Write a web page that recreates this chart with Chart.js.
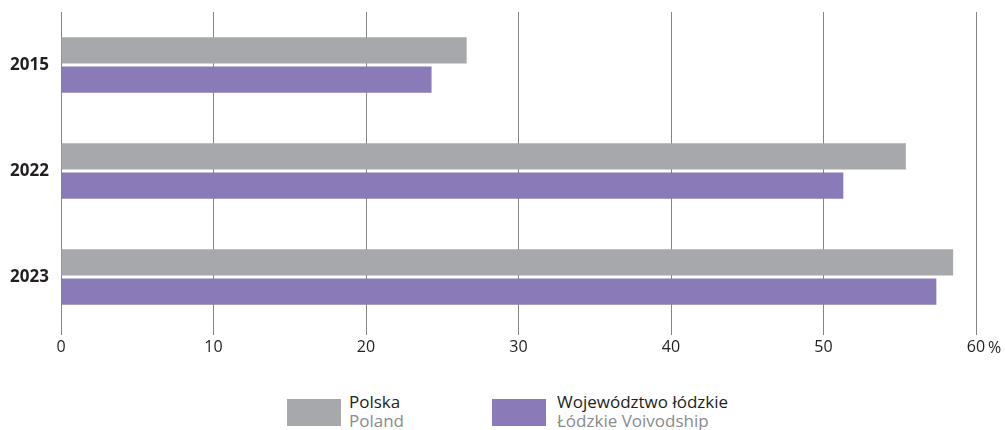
<!DOCTYPE html>
<html>
<head>
<meta charset="utf-8">
<script src="https://cdn.jsdelivr.net/npm/chart.js@4"></script>
<style>
  body { margin: 0; background: #fff; font-family: 'Open Sans', sans-serif; }
  #wrap { position: relative; width: 1005px; height: 430px; }
  #box { position: absolute; left: 0; top: 0; width: 1005px; height: 380px; }
  .key { position: absolute; top: 399px; width: 54px; height: 27px; }
  .txt { position: absolute; top: 392px; font-size: 17px; line-height: 19px; white-space: nowrap; }
  .txt .pl { color: #231f20; }
  .txt .en { color: #8a8b8d; }
</style>
</head>
<body>
<div id="wrap">
  <div id="box"><canvas id="chart"></canvas></div>
  <div class="key" style="left:287px;background:#a7a8ab"></div>
  <div class="txt" style="left:349px"><div class="pl">Polska</div><div class="en">Poland</div></div>
  <div class="key" style="left:492px;background:#8b7ab8"></div>
  <div class="txt" style="left:557px"><div class="pl">Województwo łódzkie</div><div class="en">Łódzkie Voivodship</div></div>
</div>
<script>
const years = ['2015', '2022', '2023'];
const polska = [26.6, 55.4, 58.5];
const lodzkie = [24.3, 51.3, 57.4];
const xTicks = [0, 10, 20, 30, 40, 50, 60];

const GREY = '#a7a8ab';
const PURPLE = '#8b7ab8';
const TEXT = '#231f20';

// percent sign after the last tick on the value axis
const percentSign = {
  id: 'percentSign',
  afterDraw(chart) {
    const x = chart.scales.x;
    const ctx = chart.ctx;
    ctx.save();
    ctx.font = '16px "Open Sans"';
    ctx.fillStyle = TEXT;
    ctx.textAlign = 'left';
    ctx.textBaseline = 'middle';
    ctx.fillText('%', x.getPixelForValue(xTicks[xTicks.length - 1]) + 12, 348);
    ctx.restore();
  }
};

new Chart(document.getElementById('chart'), {
  type: 'bar',
  data: {
    labels: years,
    datasets: [
      { label: 'Polska', data: polska, backgroundColor: GREY },
      { label: 'Województwo łódzkie', data: lodzkie, backgroundColor: PURPLE }
    ]
  },
  options: {
    indexAxis: 'y',
    responsive: true,
    maintainAspectRatio: false,
    animation: false,
    categoryPercentage: 0.55,
    barPercentage: 0.9,
    layout: { padding: { left: 0, right: 29, top: 12, bottom: 0 } },
    plugins: { legend: { display: false }, tooltip: { enabled: false } },
    scales: {
      x: {
        min: 0,
        max: 60,
        afterBuildTicks: s => { s.ticks = xTicks.map(v => ({ value: v })); },
        afterFit: s => { s.height = 50; },
        grid: { color: '#858585', lineWidth: 1, tickLength: 5, drawTicks: true },
        border: { display: false },
        ticks: { color: TEXT, font: { family: 'Open Sans', size: 16 }, padding: 3, maxRotation: 0 }
      },
      y: {
        afterFit: s => { s.width = 61; s.paddingTop = 0; s.paddingBottom = 0; },
        grid: { display: false, drawTicks: false },
        border: { display: false },
        ticks: { color: TEXT, font: { family: 'Open Sans', size: 17, weight: 'bold' }, padding: 12 }
      }
    }
  },
  plugins: [percentSign]
});
</script>
</body>
</html>
